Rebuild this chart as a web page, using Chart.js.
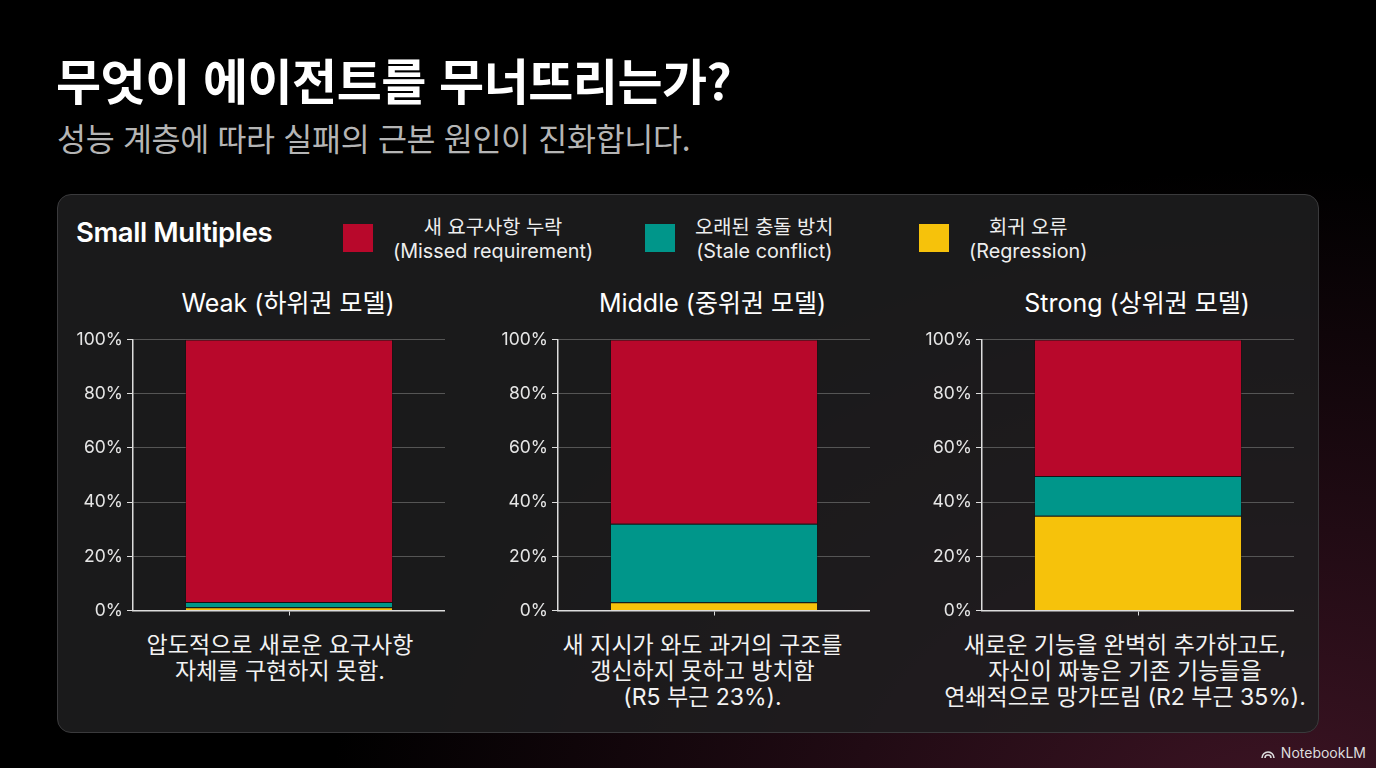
<!DOCTYPE html>
<html lang="ko">
<head>
<meta charset="utf-8">
<script src="https://cdn.jsdelivr.net/npm/chart.js@4/dist/chart.umd.min.js"></script>
<style>
  html, body { margin: 0; padding: 0; }
  body {
    width: 1376px; height: 768px; overflow: hidden; position: relative;
    font-family: "Inter", "Noto Sans CJK KR", sans-serif;
    color: #fff;
    background: radial-gradient(ellipse 950px 650px at 1280px 820px, #3d1424 0%, #210b14 45%, rgba(0,0,0,0) 100%), #000;
  }
  .title { position: absolute; left: 56px; top: 47px; font-size: 49px; font-weight: 700; letter-spacing: -0.5px; line-height: 64px; font-family: "Noto Sans CJK KR", sans-serif; }
  .subtitle { position: absolute; left: 57px; top: 116px; font-size: 31.5px; color: #b5b5b5; line-height: 42px; font-family: "Noto Sans CJK KR", sans-serif; letter-spacing: -0.3px; }
  .panel { position: absolute; left: 57px; top: 194px; width: 1260px; height: 537px; border: 1px solid #3a3a3c; border-radius: 14px; background: rgba(30,30,32,0.85); }
  .sm { position: absolute; left: 76px; top: 214px; font-size: 27.5px; font-weight: 600; letter-spacing: -0.4px; line-height: 36px; }
  .leg { position: absolute; top: 213px; display: flex; align-items: center; }
  .leg .box { width: 30px; height: 28px; margin-right: 20px; }
  .leg .txt { text-align: center; font-size: 19.8px; line-height: 24px; color: #eee; padding-top: 2px; }
  .ctitle { position: absolute; top: 285px; width: 424px; text-align: center; font-size: 25px; line-height: 36px; }
  .cv { position: absolute; top: 325px; width: 372px; height: 300px; }
  .cap { position: absolute; top: 632px; width: 424px; text-align: center; font-size: 23px; line-height: 26px; color: #f2f2f2; }
  .wm { position: absolute; right: 10px; bottom: 7px; font-size: 14px; color: #ddd; display: flex; align-items: center; gap: 5px; }
</style>
</head>
<body>
<div class="title">무엇이 에이전트를 무너뜨리는가?</div>
<div class="subtitle">성능 계층에 따라 실패의 근본 원인이 진화합니다.</div>
<div class="panel"></div>
<div class="sm">Small Multiples</div>
<div id="legend"></div>
<div id="cols"></div>
<div class="wm"><svg width="16" height="12" viewBox="0 0 16 12"><path d="M2 11 A6 6 0 0 1 14 11 M5 11 A3 3 0 0 1 11 11" stroke="#ddd" stroke-width="1.6" fill="none"/></svg>NotebookLM</div>

<script>
const tiers = ['Weak (하위권 모델)', 'Middle (중위권 모델)', 'Strong (상위권 모델)']
const missed = [96.9, 68, 50.4]
const stale = [1.9, 29, 14.6]
const regression = [1.2, 3, 35]
const yTicks = [0, 20, 40, 60, 80, 100]
const captions = [
  ['압도적으로 새로운 요구사항', '자체를 구현하지 못함.'],
  ['새 지시가 와도 과거의 구조를', '갱신하지 못하고 방치함', '(R5 부근 23%).'],
  ['새로운 기능을 완벽히 추가하고도,', '자신이 짜놓은 기존 기능들을', '연쇄적으로 망가뜨림 (R2 부근 35%).']
]
const series = [
  { name: ['새 요구사항 누락', '(Missed requirement)'], color: '#b8082b', values: missed, x: 343 },
  { name: ['오래된 충돌 방치', '(Stale conflict)'], color: '#00968a', values: stale, x: 645 },
  { name: ['회귀 오류', '(Regression)'], color: '#f6c20b', values: regression, x: 919 }
]

const legend = document.getElementById('legend')
series.forEach((s) => {
  const el = document.createElement('div')
  el.className = 'leg'
  el.style.left = s.x + 'px'
  el.innerHTML = `<div class="box" style="background:${s.color}"></div><div class="txt">${s.name.join('<br>')}</div>`
  legend.append(el)
})

const cols = document.getElementById('cols')
tiers.forEach((tier, i) => {
  const left = 73 + i * 424.5
  const col = document.createElement('div')
  col.innerHTML = `
    <div class="ctitle" style="left:${left + 3}px">${tier}</div>
    <div class="cv" style="left:${left}px"><canvas id="c${i}"></canvas></div>
    <div class="cap" style="left:${left - 5 - i * 2}px">${captions[i].join('<br>')}</div>
  `
  cols.append(col)

  // bottom segment first: regression, stale, missed
  const datasets = [2, 1, 0].map((k) => ({
    label: series[k].name.join(' '),
    data: [series[k].values[i]],
    backgroundColor: series[k].color,
    borderColor: 'rgba(0,0,0,0.25)',
    borderWidth: 1,
    barPercentage: 0.667,
    categoryPercentage: 1
  }))

  new Chart(document.getElementById('c' + i), {
    type: 'bar',
    data: { labels: [''], datasets },
    options: {
      responsive: true,
      maintainAspectRatio: false,
      animation: false,
      layout: { padding: 0 },
      plugins: { legend: { display: false }, tooltip: { enabled: false } },
      scales: {
        x: {
          stacked: true,
          afterFit: (s) => { s.height = 10 },
          grid: { offset: false, drawOnChartArea: false, drawTicks: true, tickLength: 5, color: '#ddd' },
          border: { color: '#ddd', width: 1.5 },
          ticks: { display: false }
        },
        y: {
          stacked: true,
          min: 0,
          max: 100,
          afterFit: (s) => { s.width = 60 },
          afterBuildTicks: (s) => { s.ticks = yTicks.map((v) => ({ value: v })) },
          grid: { color: '#555', tickColor: '#ddd', tickLength: 6 },
          border: { color: '#ddd', width: 1.5 },
          ticks: {
            color: '#e6e6e6',
            padding: 4,
            font: { size: 17.5, family: 'Inter' },
            callback: (v) => v + '%'
          }
        }
      }
    }
  })
})
</script>
</body>
</html>
